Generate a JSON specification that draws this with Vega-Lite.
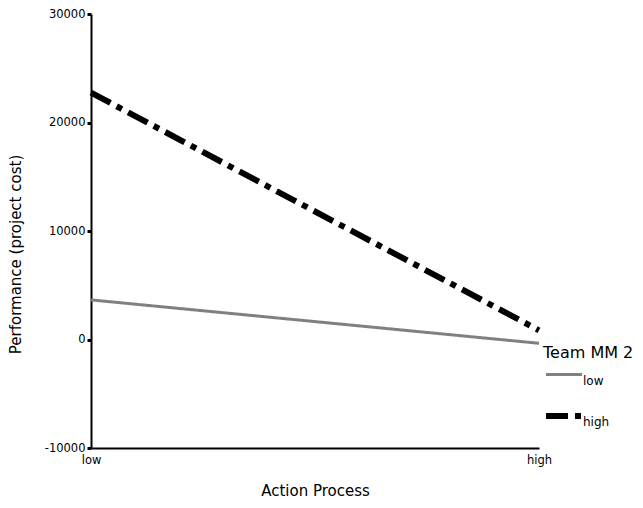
{
  "$schema": "https://vega.github.io/schema/vega-lite/v6.json",
  "width": 448,
  "height": 434,
  "autosize": "none",
  "padding": {"left": 91, "top": 14, "right": 104, "bottom": 60},
  "background": "white",
  "data": {"values": [
    {"process": "low", "team": "low", "cost": 3650},
    {"process": "high", "team": "low", "cost": -350},
    {"process": "low", "team": "high", "cost": 22750},
    {"process": "high", "team": "high", "cost": 850}
  ]},
  "mark": {"type": "line", "strokeCap": "butt"},
  "encoding": {
    "x": {"field": "process", "type": "ordinal", "sort": ["low", "high"],
      "scale": {"type": "point", "padding": 0},
      "axis": {"title": "Action Process", "labelAngle": 0, "titlePadding": 18, "labelPadding": 6, "tickSize": 0}},
    "y": {"field": "cost", "type": "quantitative",
      "scale": {"domain": [-10000, 30000], "nice": false, "zero": false},
      "axis": {"title": "Performance (project cost)", "values": [-10000, 0, 10000, 20000, 30000], "labelExpr": "'' + datum.value", "grid": false, "titleX": -76, "titleY": 240, "titleAngle": -90, "titleAlign": "center", "titleBaseline": "middle"}},
    "color": {"field": "team", "type": "nominal", "sort": ["low", "high"],
      "scale": {"domain": ["low", "high"], "range": ["#808080", "#000000"]},
      "legend": {"title": "Team MM 2"}},
    "strokeDash": {"field": "team", "type": "nominal", "sort": ["low", "high"],
      "scale": {"domain": ["low", "high"], "range": [[1, 0], [22, 7, 6, 7]]},
      "legend": {"title": "Team MM 2"}},
    "strokeWidth": {"field": "team", "type": "ordinal", "sort": ["low", "high"],
      "scale": {"domain": ["low", "high"], "range": [3, 6]},
      "legend": {"title": "Team MM 2"}}
  },
  "config": {
    "view": {"stroke": null},
    "font": "DejaVu Sans",
    "axis": {
      "domainColor": "#000000", "domainWidth": 2,
      "tickColor": "#000000", "tickSize": 4, "tickWidth": 3,
      "labelColor": "#000000", "labelFont": "DejaVu Sans", "labelFontSize": 11.5,
      "titleColor": "#000000", "titleFont": "DejaVu Sans", "titleFontSize": 15, "titleFontWeight": "normal"
    },
    "legend": {
      "orient": "none", "legendX": 452, "legendY": 331,
      "symbolType": "stroke", "symbolSize": 1296, "symbolStrokeWidth": 3,
      "titleFontSize": 16, "titleFontWeight": "normal", "titleColor": "#000000", "titleFont": "DejaVu Sans",
      "titlePadding": -6,
      "labelFontSize": 12, "labelColor": "#000000", "labelFont": "DejaVu Sans",
      "labelBaseline": "line-top", "labelOffset": -2, "labelLineHeight": 44,
      "rowPadding": 8, "padding": 0
    }
  }
}
